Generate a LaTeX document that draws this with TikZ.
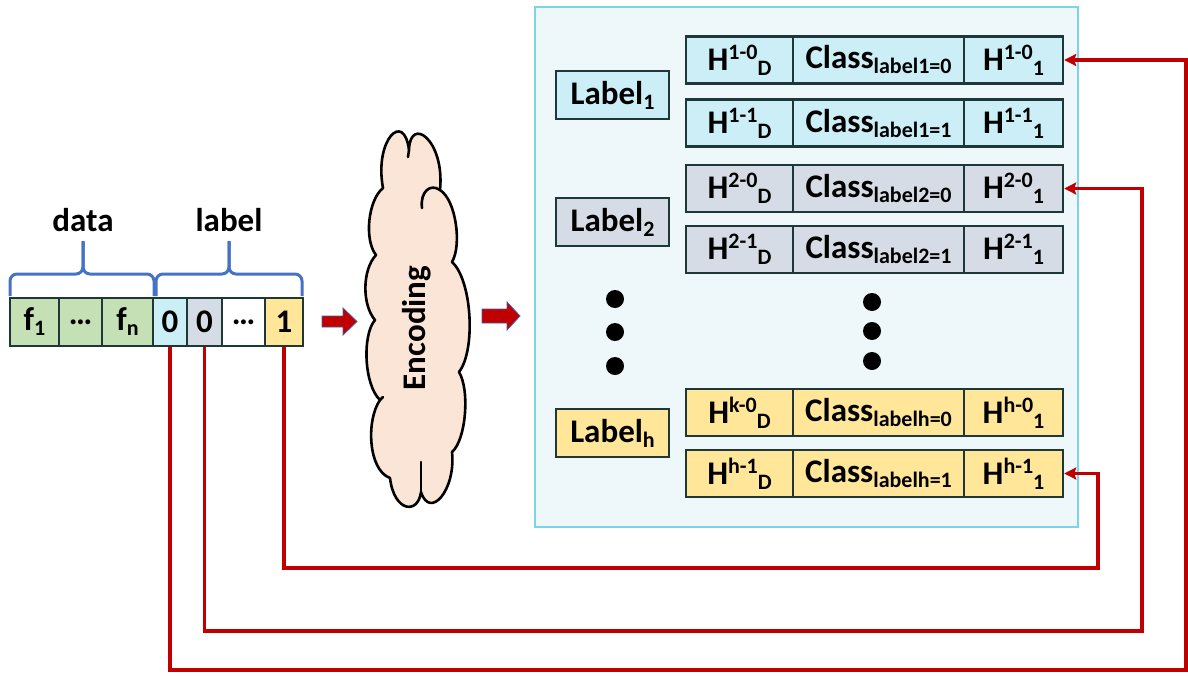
\documentclass[tikz,border=0pt]{standalone}
\usepackage{fontspec}
\setmainfont{Carlito}
\usetikzlibrary{arrows.meta}
\definecolor{cellborder}{RGB}{30,55,55}
\definecolor{cyanfill}{RGB}{204,238,246}
\definecolor{greyfill}{RGB}{214,220,229}
\definecolor{yellowfill}{RGB}{255,230,153}
\definecolor{greenfill}{RGB}{197,224,180}
\definecolor{panelfill}{RGB}{238,248,251}
\definecolor{panelborder}{RGB}{125,211,232}
\definecolor{darkred}{RGB}{192,0,0}
\definecolor{braceblue}{RGB}{68,114,196}
\definecolor{cloudfill}{RGB}{251,229,214}
\definecolor{arrowedge}{RGB}{70,90,160}
\newcommand{\upx}[1]{\raisebox{11pt}{\fontsize{22}{22}\selectfont #1}}
\newcommand{\dnx}[1]{\raisebox{-5pt}{\fontsize{22}{22}\selectfont #1}}
\newcommand{\Hx}[2]{H\upx{#1}\dnx{#2}}
\begin{document}
\begin{tikzpicture}[x=1pt,y=-1pt,
  bigfont/.style={font=\fontsize{33}{39}\selectfont\bfseries},
  cellbox/.style={draw=cellborder, line width=2.4pt, minimum height=47pt, inner sep=0pt, bigfont},
  colA/.style={cellbox, minimum width=107pt},
  colB/.style={cellbox, minimum width=171pt},
  colC/.style={cellbox, minimum width=99pt},
  labbox/.style={cellbox, minimum width=113pt, minimum height=48pt},
  arr/.style={cellbox, minimum height=48pt},
  conn/.style={draw=darkred, line width=3.5pt, -{Stealth[length=12pt,width=12pt,inset=2pt]}},
  bracestyle/.style={draw=braceblue, line width=3pt, rounded corners=7pt},
  blockarrow/.style={fill=darkred, draw=arrowedge, line width=0.8pt},
  dotnode/.style={circle, fill=black, inner sep=0pt, minimum size=18pt},
  cloudline/.style={draw=black, line width=2.6pt, line join=round, line cap=round}
]
\useasboundingbox (0,0) rectangle (1188,675);

% panel
\node[draw=panelborder, fill=panelfill, line width=2.5pt, minimum width=543pt, minimum height=520pt, inner sep=0pt] (panel) at (806.5,267) {};

% input array
\node[arr, fill=greenfill, minimum width=49pt] (f1) at (34.5,322) {f\dnx{1}};
\node[arr, fill=greenfill, minimum width=43pt] (fd) at (80.5,322) {…};
\node[arr, fill=greenfill, minimum width=51pt] (fn) at (127.5,322) {f\dnx{n}};
\node[arr, fill=cyanfill, minimum width=34pt] (z1) at (170,322) {0};
\node[arr, fill=greyfill, minimum width=35pt] (z2) at (204.5,322) {0};
\node[arr, fill=white, minimum width=43pt] (ld) at (243.5,322) {…};
\node[arr, fill=yellowfill, minimum width=38pt] (one) at (284,322) {1};

% braces
\draw[bracestyle] (10,296) -- (10,274) -- (83,274) -- (83,241);
\draw[bracestyle] (154,296) -- (154,274) -- (83,274) -- (83,241);
\draw[bracestyle] (156,296) -- (156,274) -- (229,274) -- (229,241);
\draw[bracestyle] (302,296) -- (302,274) -- (229,274) -- (229,241);
\node[bigfont] (datatxt) at (83,220) {data};
\node[bigfont] (labeltxt) at (229,220) {label};

% block arrows
\draw[blockarrow] (322,316) -- (343,316) -- (343,308) -- (357,321.5) -- (343,335) -- (343,327) -- (322,327) -- cycle;
\draw[blockarrow] (482,309) -- (507,309) -- (507,302) -- (520,316) -- (507,330) -- (507,323) -- (482,323) -- cycle;

% cloud
\draw[cloudline, fill=cloudfill]
  (383,188) .. controls (374,140) and (404,110) .. (409,150)
  .. controls (410,115) and (445,140) .. (440,190)
  .. controls (456,200) and (462,245) .. (452,262)
  .. controls (472,280) and (476,350) .. (459,372)
  .. controls (470,390) and (466,440) .. (452,452)
  .. controls (456,490) and (430,520) .. (421,492)
  .. controls (418,515) and (394,512) .. (390,478)
  .. controls (368,470) and (366,420) .. (380,400)
  .. controls (364,385) and (362,335) .. (375,320)
  .. controls (362,305) and (362,270) .. (376,255)
  .. controls (364,240) and (368,200) .. (383,188) -- cycle;
\draw[cloudline] (409,150) -- (408,157);
\draw[cloudline] (422,208) .. controls (420,192) and (430,183) .. (440,190);
\draw[cloudline] (421,492) -- (421,462);
\draw[cloudline] (380,400) -- (383,397);
\node[bigfont, rotate=90] (enc) at (417,328) {Encoding};

% label boxes
\node[labbox, fill=cyanfill] (L1) at (612.5,95) {Label\dnx{1}};
\node[labbox, fill=greyfill] (L2) at (612.5,222) {Label\dnx{2}};
\node[labbox, fill=yellowfill] (Lh) at (612.5,433) {Label\dnx{h}};

% rows
\node[colA, fill=cyanfill] (r1a) at (739.5,60) {\Hx{1-0}{D}};
\node[colB, fill=cyanfill] (r1b) at (878.5,60) {Class\dnx{label1=0}};
\node[colC, fill=cyanfill] (r1c) at (1013.5,60) {\Hx{1-0}{1}};
\node[colA, fill=cyanfill] (r2a) at (739.5,123) {\Hx{1-1}{D}};
\node[colB, fill=cyanfill] (r2b) at (878.5,123) {Class\dnx{label1=1}};
\node[colC, fill=cyanfill] (r2c) at (1013.5,123) {\Hx{1-1}{1}};
\node[colA, fill=greyfill] (r3a) at (739.5,188.5) {\Hx{2-0}{D}};
\node[colB, fill=greyfill] (r3b) at (878.5,188.5) {Class\dnx{label2=0}};
\node[colC, fill=greyfill] (r3c) at (1013.5,188.5) {\Hx{2-0}{1}};
\node[colA, fill=greyfill] (r4a) at (739.5,249.5) {\Hx{2-1}{D}};
\node[colB, fill=greyfill] (r4b) at (878.5,249.5) {Class\dnx{label2=1}};
\node[colC, fill=greyfill] (r4c) at (1013.5,249.5) {\Hx{2-1}{1}};
\node[colA, fill=yellowfill] (r5a) at (739.5,412.5) {\Hx{k-0}{D}};
\node[colB, fill=yellowfill] (r5b) at (878.5,412.5) {Class\dnx{labelh=0}};
\node[colC, fill=yellowfill] (r5c) at (1013.5,412.5) {\Hx{h-0}{1}};
\node[colA, fill=yellowfill] (r6a) at (739.5,473.5) {\Hx{h-1}{D}};
\node[colB, fill=yellowfill] (r6b) at (878.5,473.5) {Class\dnx{labelh=1}};
\node[colC, fill=yellowfill] (r6c) at (1013.5,473.5) {\Hx{h-1}{1}};

% dots
\node[dotnode] (dl1) at (615,299) {};
\node[dotnode] (dl2) at (615,332) {};
\node[dotnode] (dl3) at (615,366) {};
\node[dotnode] (dr1) at (872,302) {};
\node[dotnode] (dr2) at (872,331) {};
\node[dotnode] (dr3) at (872,361) {};

% connectors
\coordinate (t1) at (1186,670);
\coordinate (t2) at (1142,631);
\coordinate (t3) at (1098,568);
\draw[conn] (z1.south) |- (t1) |- (r1c.east);
\draw[conn] (z2.south) |- (t2) |- (r3c.east);
\draw[conn] (one.south) |- (t3) |- (r6c.east);
\end{tikzpicture}
\end{document}
